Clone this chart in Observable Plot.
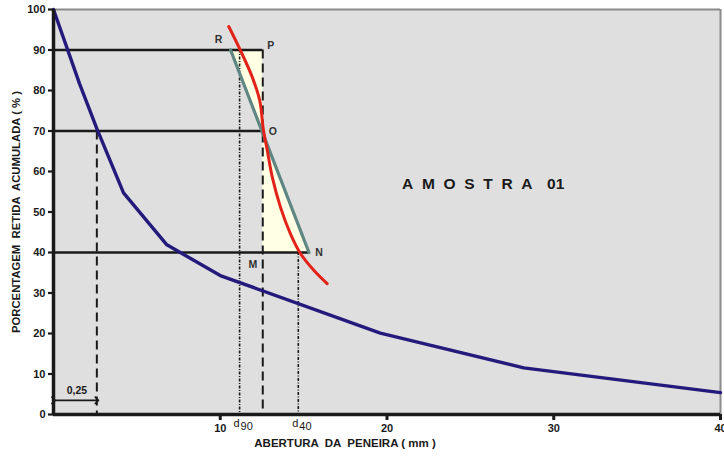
<!DOCTYPE html>
<html><head><meta charset="utf-8">
<script src="https://cdn.jsdelivr.net/npm/d3@7"></script>
<script src="https://cdn.jsdelivr.net/npm/@observablehq/plot@0.6"></script>
<style>body{margin:0;background:#fff}</style>
</head><body><div id="chart"></div>
<script>
// Granulometric curve (blue)
const blueX = [0, 1.56, 2.6, 4.2, 6.8, 10.0, 19.6, 28.2, 40];
const blueY = [100, 81.7, 70.6, 54.7, 41.9, 34.3, 20.1, 11.5, 5.4];
// Red curve (detail)
const redX = [10.51, 11.21, 11.92, 12.37, 12.58, 12.82, 13.12, 13.61, 14.21, 14.81, 15.61, 16.41];
const redY = [95.8, 89.9, 83.3, 77.5, 70.5, 65.2, 58.6, 51.2, 44.6, 39.75, 35.6, 32.3];
// Green straight line R–N
const greenX = [10.62, 15.32];
const greenY = [90, 40];
// Construction levels
const levels = [90, 70, 40];
const pX = 12.55;      // vertical through P, O, M
const d90 = 11.16;
const d40 = 14.68;
const d70 = 2.6;       // where blue curve crosses 70 %
const arrowY = 3.5;
const xTicks = [10, 20, 30, 40];
const yTicks = d3.range(0, 101, 10);
// Point labels
const ptNames = ["R", "P", "O", "M", "N"];
const ptX = [10.62, pX, pX, pX, 15.32];
const ptY = [90, 90, 70, 40, 40];
const ptDx = [-12, 8, 10, -10, 10];
const ptDy = [-10, -4, 1, 12, 0];

const blue = blueX.map((x, i) => ({x, y: blueY[i]}));
const red = redX.map((x, i) => ({x, y: redY[i]}));
const green = greenX.map((x, i) => ({x, y: greenY[i]}));
const hlines = [
  {y: levels[0], x2: pX},
  {y: levels[1], x2: pX},
  {y: levels[2], x2: greenX[1]}
];
const fillPts = [
  {y: greenY[0], x1: greenX[0], x2: pX},
  {y: levels[1], x1: pX, x2: pX},
  {y: greenY[1], x1: pX, x2: greenX[1]}
];
const pts = ptNames.map((t, i) => ({t, x: ptX[i], y: ptY[i], dx: ptDx[i], dy: ptDy[i]}));

const ink = "#1a1a1a";
const marks = [
  Plot.frame({fill: "#dfdfdf", stroke: null}),
  Plot.areaX(fillPts, {y: "y", x1: "x1", x2: "x2", fill: "#ffffe4", curve: "linear"}),
  Plot.ruleY([100], {stroke: "#8a8a8a", strokeWidth: 2}),
  Plot.ruleX([40], {stroke: "#8a8a8a", strokeWidth: 2}),
  Plot.ruleY(hlines, {y: "y", x1: 0, x2: "x2", stroke: ink, strokeWidth: 2.5}),
  Plot.ruleX([d70], {y1: levels[1], y2: 0, stroke: ink, strokeWidth: 2, strokeDasharray: "9,5"}),
  Plot.ruleX([pX], {y1: levels[0], y2: 0, stroke: ink, strokeWidth: 2, strokeDasharray: "9,5"}),
  Plot.ruleX([d90], {y1: levels[0], y2: 0, stroke: ink, strokeWidth: 1.6, strokeDasharray: "3,1.5,1,1.5"}),
  Plot.ruleX([d40], {y1: levels[2], y2: 0, stroke: ink, strokeWidth: 1.6, strokeDasharray: "3,1.5,1,1.5"}),
  Plot.line(blue, {x: "x", y: "y", stroke: "#241a7c", strokeWidth: 3.4}),
  Plot.line(green, {x: "x", y: "y", stroke: "#5e8682", strokeWidth: 3.2}),
  Plot.line(red, {x: "x", y: "y", stroke: "#e2231a", strokeWidth: 3, curve: "catmull-rom"}),
  Plot.link([{x1: 0, x2: d70}], {x1: "x1", x2: "x2", y1: arrowY, y2: arrowY, stroke: ink, strokeWidth: 1.6, markerStart: "arrow", markerEnd: "arrow"}),
  Plot.text(["0,25"], {x: d70 / 2 + 0.1, y: arrowY, dy: -10, text: d => d, fontWeight: "bold", fontSize: 10.5, fill: ink}),
  Plot.axisY({ticks: yTicks, tickSize: 5, tickPadding: 3, strokeWidth: 2.2, color: ink, fontWeight: "bold", fontSize: 11, label: null}),
  Plot.axisX({ticks: xTicks, tickSize: 6, tickPadding: 4, strokeWidth: 3, color: ink, fontWeight: "bold", fontSize: 11, label: null}),
  Plot.ruleX([0], {stroke: ink, strokeWidth: 3.5}),
  Plot.ruleY([0], {stroke: ink, strokeWidth: 3.5}),
  Plot.text(pts, {x: "x", y: "y", text: "t", fontWeight: "bold", fontSize: 10.5, fill: "#333"}),
  Plot.text([d90, d40], {x: d => d, frameAnchor: "bottom", dy: 12, text: () => "d", textAnchor: "end", fontSize: 11, fill: ink}),
  Plot.text([d90, d40], {x: d => d, frameAnchor: "bottom", dy: 15, dx: 1, text: (d, i) => i === 0 ? "90" : "40", textAnchor: "start", fontSize: 11, fill: ink}),
  Plot.text(["AMOSTRA"], {x: 20.9, y: 56.8, text: d => d, textAnchor: "start", fontWeight: "bold", fontSize: 15.5, fill: ink}),
  Plot.text(["01"], {x: 29.6, y: 56.8, text: d => d, textAnchor: "start", fontWeight: "bold", fontSize: 15.5, fill: ink}),
  Plot.text(["PORCENTAGEM  RETIDA  ACUMULADA ( % )"], {frameAnchor: "left", textAnchor: "middle", dx: -37, text: d => d, rotate: -90, fontWeight: "bold", fontSize: 11.3, fill: ink}),
  Plot.text(["ABERTURA  DA  PENEIRA ( mm )"], {frameAnchor: "bottom", textAnchor: "middle", dx: -42, dy: 32, text: d => d, fontWeight: "bold", fontSize: 11.5, fill: ink})
];

const chart = Plot.plot({
  width: 724,
  height: 457,
  marginTop: 9,
  marginBottom: 43,
  marginLeft: 53,
  marginRight: 4,
  x: {domain: [0, 40]},
  y: {domain: [0, 100]},
  style: {fontFamily: "'Liberation Sans', Arial, sans-serif", fontSize: "11px", background: "#fff", overflow: "visible"},
  marks
});
const svg = d3.select(chart);
document.getElementById("chart").append(chart);
svg.selectAll("text").each(function() {
  const t = this.textContent;
  if (t === "AMOSTRA") d3.select(this).attr("letter-spacing", "8.7");
  if (t.includes("  ")) d3.select(this).style("white-space", "pre");
});
// per-point label offsets
svg.selectAll("text").filter(function() { return ptNames.includes(this.textContent) && this.parentNode.childElementCount === ptNames.length; })
  .each(function(_, i) {
    const p = pts[i];
    d3.select(this).attr("dx", p.dx).attr("dy", p.dy);
  });
</script>
</body></html>
